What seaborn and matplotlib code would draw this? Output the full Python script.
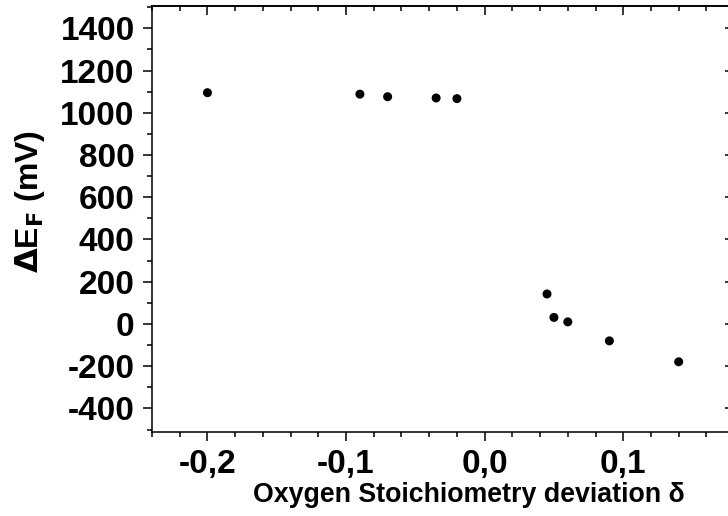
import numpy as np
import pandas as pd
import matplotlib
matplotlib.use("Agg")
import matplotlib.pyplot as plt
from matplotlib.ticker import MultipleLocator, FuncFormatter
import seaborn as sns

# data =================================================================================================================
delta = [-0.200, -0.090, -0.070, -0.035, -0.020, 0.045, 0.050, 0.060, 0.090, 0.140]
dEF_mV = [1095, 1088, 1076, 1070, 1067, 142, 31, 10, -80, -179]

df = pd.DataFrame({"delta": delta, "dEF": dEF_mV})

# style ================================================================================================================
sns.set_theme(style="ticks")
plt.rcParams["font.family"] = ["Liberation Sans", "DejaVu Sans"]
plt.rcParams["font.weight"] = "bold"
plt.rcParams["axes.unicode_minus"] = False
plt.rcParams["mathtext.default"] = "bf"
for key in ["text.color", "axes.labelcolor", "xtick.color", "ytick.color", "axes.edgecolor"]:
    plt.rcParams[key] = "black"

fig = plt.figure(figsize=(7.28, 5.16), dpi=100)
ax = fig.add_axes([0.2088, 0.1634, 0.7996, 0.8256])

sns.scatterplot(data=df, x="delta", y="dEF", ax=ax, color="black", s=42, edgecolor="none", legend=False)

#### limits and ticks
ax.set_xlim(-0.24, 0.18)
ax.set_ylim(-510, 1507)
ax.xaxis.set_major_locator(MultipleLocator(0.1))
ax.xaxis.set_minor_locator(MultipleLocator(0.02))
ax.yaxis.set_major_locator(MultipleLocator(200))
ax.yaxis.set_minor_locator(MultipleLocator(100))
ax.xaxis.set_major_formatter(FuncFormatter(lambda v, p: ("%.1f" % v).replace(".", ",").replace("-0,0", "0,0")))
ax.yaxis.set_major_formatter(FuncFormatter(lambda v, p: "%d" % round(v)))

ax.tick_params(axis="both", which="major", labelsize=24, length=6.5, width=1.1, color="black")
ax.tick_params(axis="both", which="minor", length=3.5, width=1.1, color="black")
ax.tick_params(axis="x", which="both", direction="out", top=False, pad=6)
ax.tick_params(axis="y", which="both", direction="out", right=False, pad=6)

#### inward ticks on the top and right sides
top = ax.secondary_xaxis("top")
top.xaxis.set_major_locator(MultipleLocator(0.1))
top.xaxis.set_minor_locator(MultipleLocator(0.02))
top.tick_params(which="both", direction="in", labeltop=False, width=1.1)
top.tick_params(which="major", length=6.5)
top.tick_params(which="minor", length=3.5)
right = ax.secondary_yaxis("right")
right.yaxis.set_major_locator(MultipleLocator(200))
right.yaxis.set_minor_locator(MultipleLocator(1e6))
right.tick_params(which="major", direction="in", labelright=False, length=6.5, width=1.1)

for side in ["left", "bottom", "top", "right"]:
    ax.spines[side].set_visible(True)
    ax.spines[side].set_linewidth(1.1)
    ax.spines[side].set_color("black")

#### labels
ax.set_xlabel("Oxygen Stoichiometry deviation δ", fontsize=19.3, fontweight="bold")
ax.xaxis.set_label_coords(0.545, -0.117)
ax.set_ylabel(r"$\Delta$E$_\mathbf{F}$ (mV)", fontsize=23, fontweight="bold")
ax.yaxis.set_label_coords(-0.181, 0.54)
for lab in ax.get_xticklabels() + ax.get_yticklabels():
    lab.set_fontweight("bold")

fig.savefig("out.png", dpi=100)
